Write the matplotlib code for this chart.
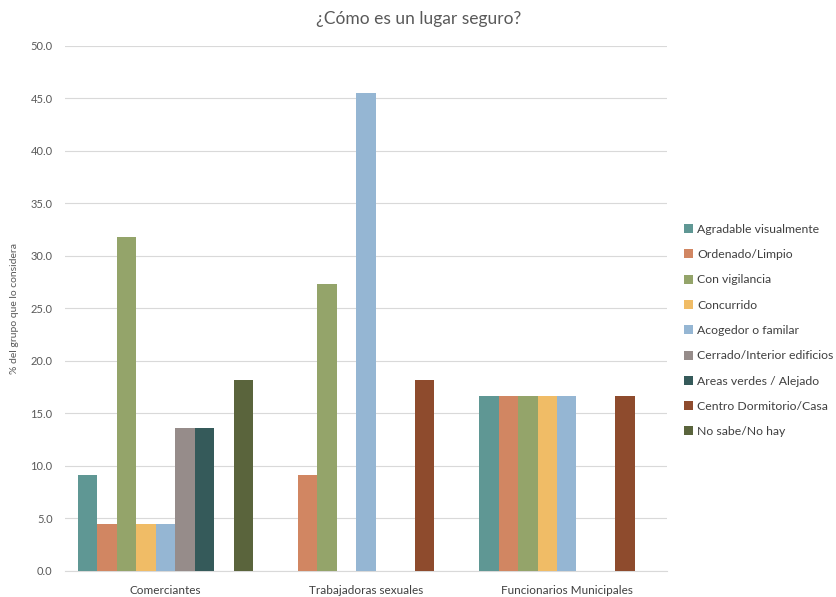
import matplotlib
matplotlib.use("Agg")
import matplotlib.pyplot as plt
import numpy as np

plt.rcParams['font.family'] = ['Lato', 'DejaVu Sans']

categories = ["Comerciantes", "Trabajadoras sexuales", "Funcionarios Municipales"]
series_names = ["Agradable visualmente", "Ordenado/Limpio", "Con vigilancia", "Concurrido",
                "Acogedor o familar", "Cerrado/Interior edificios", "Areas verdes / Alejado",
                "Centro Dormitorio/Casa", "No sabe/No hay"]
values = [
    [9.1, 0.0, 16.7],    # Agradable visualmente
    [4.5, 9.1, 16.7],    # Ordenado/Limpio
    [31.8, 27.3, 16.7],  # Con vigilancia
    [4.5, 0.0, 16.7],    # Concurrido
    [4.5, 45.5, 16.7],   # Acogedor o familar
    [13.6, 0.0, 0.0],    # Cerrado/Interior edificios
    [13.6, 0.0, 0.0],    # Areas verdes / Alejado
    [0.0, 18.2, 16.7],   # Centro Dormitorio/Casa
    [18.2, 0.0, 0.0],    # No sabe/No hay
]
colors = ["#5F9794", "#D18662", "#94A46A", "#F0BC66", "#95B6D3",
          "#968C8A", "#355A5A", "#8E4B2D", "#5A643C"]
yticks = [0, 5, 10, 15, 20, 25, 30, 35, 40, 45, 50]

fig = plt.figure(figsize=(8.37, 5.97), dpi=100)
ax = fig.add_axes([0.0777, 0.0436, 0.7193, 0.8794])

n = len(series_names)
gap = 1.3
w = 1.0 / (n + gap)
x = np.arange(len(categories))
for i, (name, vals, c) in enumerate(zip(series_names, values, colors)):
    offs = (i - (n - 1) / 2) * w
    ax.bar(x + offs, vals, width=w, color=c, label=name, zorder=3)

ax.set_xlim(-0.5, len(categories) - 0.5)
ax.set_ylim(0, 50)
ax.set_yticks(yticks)
ax.set_yticklabels([f"{v:.1f}" for v in yticks], fontsize=8, color="#595959")
ax.set_xticks(x)
ax.set_xticklabels(categories, fontsize=8.5, color="#404040")
ax.tick_params(axis='both', length=0)
ax.tick_params(axis='y', pad=9)
ax.tick_params(axis='x', pad=10)
ax.grid(axis='y', color="#D9D9D9", linewidth=0.8, zorder=0)
for s in ["top", "right", "left"]:
    ax.spines[s].set_visible(False)
ax.spines["bottom"].set_color("#D9D9D9")
ax.spines["bottom"].set_linewidth(0.8)

ax.set_ylabel("% del grupo que lo considera", fontsize=7.5, color="#595959", labelpad=8)
fig.text(0.5, 0.968, "¿Cómo es un lugar seguro?", ha="center", va="center",
         fontsize=12.5, color="#595959")

leg = ax.legend(loc="center left", bbox_to_anchor=(1.0, 0.458), frameon=False,
                fontsize=8.8, handlelength=0.75, handleheight=0.75, handletextpad=0.3,
                labelspacing=1.17, borderaxespad=1.0)
for t in leg.get_texts():
    t.set_color("#404040")

fig.savefig("out.png", dpi=100)
